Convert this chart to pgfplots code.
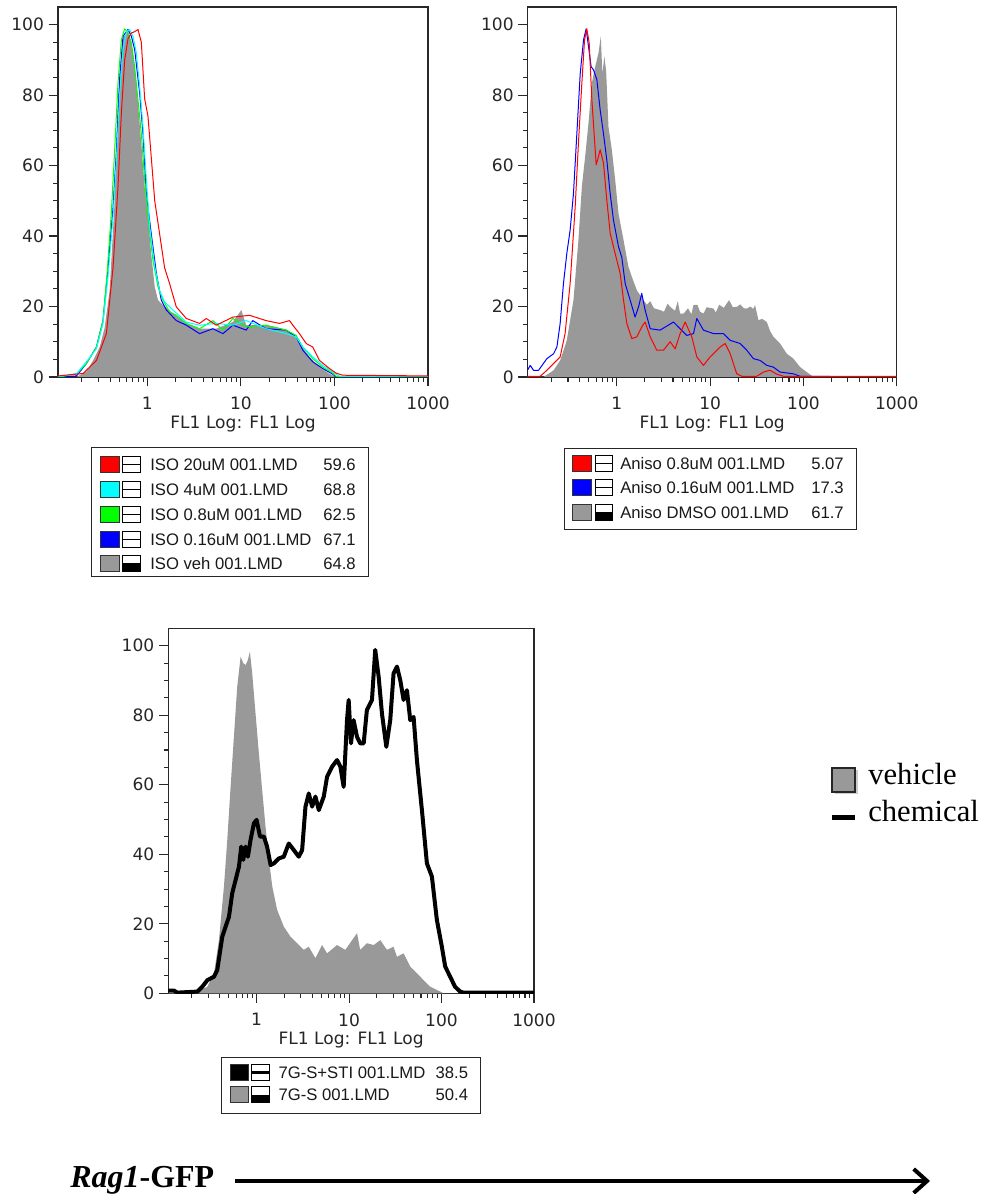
\documentclass[border=0pt]{standalone}
\usepackage{fontspec}
\usepackage{pgfplots}
\pgfplotsset{compat=1.18}
\usetikzlibrary{arrows.meta}
\setmainfont{Liberation Serif}
\newfontfamily\dvfont{DejaVu Sans}
\newfontfamily\arfont{Liberation Sans}
\definecolor{histgray}{RGB}{153,153,153}
\definecolor{framec}{RGB}{40,40,40}
\definecolor{fcred}{RGB}{255,0,0}
\definecolor{fccyan}{RGB}{0,255,255}
\definecolor{fcgreen}{RGB}{0,255,0}
\definecolor{fcblue}{RGB}{0,0,255}
\pgfplotsset{
  flowaxis/.style={
    scale only axis, anchor=south west,
    xmin=0.111, xmax=1000, ymin=0, ymax=105,
    xtick={1,10,100,1000}, xticklabels={1,10,100,1000},
    minor xtick={0.2,0.3,0.4,0.5,0.6,0.7,0.8,0.9,2,3,4,5,6,7,8,9,20,30,40,50,60,70,80,90,200,300,400,500,600,700,800,900},
    ytick={0,20,40,60,80,100}, yticklabels={0,20,40,60,80,100},
    minor ytick={5,10,15,25,30,35,45,50,55,65,70,75,85,90,95},
    tick align=outside, tick pos=left,
    major tick length=7pt, minor tick length=3.5pt,
    every tick/.style={framec, line width=0.8pt},
    axis line style={framec, line width=0.8pt},
    /pgf/number format/assume math mode=true,
    tick label style={font=\dvfont\fontsize{12.8}{15}\selectfont, text=black!85},
    xticklabel style={yshift=-4.5pt},
    xlabel={FL1 Log: FL1 Log},
    xlabel style={at={(axis description cs:0.5,0)}, anchor=center, yshift=-35pt, font=\dvfont\fontsize{12.8}{15}\selectfont, text=black!85},
  },
  thinline/.style={line width=0.75pt, line join=round},
}
\newcommand{\swatch}[3]{\draw[black!80, line width=0.75pt, fill=#3] (#1,#2-8) rectangle ++(18.5,16);}
\newcommand{\iconline}[2]{\draw[black, line width=0.75pt, fill=white] (#1,#2-8) rectangle ++(17.5,16); \draw[black, line width=0.75pt] (#1,#2) -- ++(17.5,0);}
\newcommand{\iconthick}[2]{\draw[black, line width=0.75pt, fill=white] (#1,#2-8) rectangle ++(17.5,16); \draw[black, line width=2.2pt] (#1,#2) -- ++(17.5,0);}
\newcommand{\iconfill}[2]{\draw[black, line width=0.75pt, fill=white] (#1,#2-8) rectangle ++(17.5,16); \fill[black] (#1,#2) rectangle ++(17.5,8);}
\newcommand{\legtext}[3]{\node[anchor=base west, inner sep=0, font=\arfont\fontsize{12.5}{14}\selectfont, text=black!90] at (#1,#2+5.8) {#3};}
\newcommand{\legnum}[3]{\node[anchor=base east, inner sep=0, font=\arfont\fontsize{12.5}{14}\selectfont, text=black!90] at (#1,#2+5.8) {#3};}
\begin{document}
\begin{tikzpicture}
\useasboundingbox (0,0) rectangle (740.25pt,895.5pt);
\fill[white] (0,0) rectangle (740.25pt,895.5pt);

% ---------------- Panel 1 ----------------
\begin{axis}[xmode=log, flowaxis, at={(43.5pt,612.75pt)}, width=277.5pt, height=277.5pt]
\addplot[draw=none, fill=histgray] coordinates {(0.111,0) (0.175,0) (0.223,1.5) (0.263,4.7) (0.310,8.5) (0.350,14) (0.396,24.6) (0.448,50) (0.486,79) (0.528,88) (0.550,97) (0.573,96.7) (0.622,98) (0.675,94.8) (0.732,88) (0.795,77.7) (0.863,66) (0.936,54) (1.016,45.5) (1.10,35) (1.20,25.6) (1.30,21.8) (1.47,20.4) (1.88,18) (2.61,15.2) (3.62,13.7) (5.45,13.7) (8.22,15.6) (10.1,19) (11.4,14.7) (18.6,14.7) (28.1,13.7) (35.9,12.3) (42.3,9.5) (54.1,5.7) (69.2,2.8) (88.5,0.9) (104,0) (1000,0)} \closedcycle;
\addplot[thinline, fcblue] coordinates {(0.111,0) (0.175,0.3) (0.223,3.8) (0.286,8.5) (0.336,16) (0.380,31) (0.430,48) (0.467,64) (0.507,85) (0.550,96.7) (0.622,98.6) (0.675,96.7) (0.732,93) (0.828,80.6) (0.899,69) (0.976,52) (1.10,40.8) (1.25,29.4) (1.41,21.8) (1.60,19) (2.04,16) (2.61,14.7) (3.62,12.3) (5.02,13.7) (6.43,12.3) (8.22,14.7) (11.4,13.3) (13.4,16) (18.6,13.7) (30.5,13.3) (39.0,11.4) (45.9,7.6) (58.7,4.3) (75.0,2.4) (96.0,0.8) (104,0) (1000,0)};
\addplot[thinline, fcgreen] coordinates {(0.111,0) (0.175,0.9) (0.223,3.8) (0.286,8.5) (0.336,16) (0.371,29) (0.413,47) (0.448,64.5) (0.486,83.4) (0.528,95.7) (0.573,98.8) (0.622,97.6) (0.675,94.8) (0.732,88) (0.795,78.7) (0.863,69) (0.936,56) (1.016,45.5) (1.15,33) (1.30,25.6) (1.47,21.8) (1.73,18.5) (2.04,17.5) (2.61,15.2) (3.62,13.7) (5.02,16) (6.43,13.3) (8.22,16.6) (11.4,14.2) (18.6,14.7) (30.5,13.3) (39.0,11.8) (45.9,8.5) (58.7,5.2) (75.0,2.8) (96.0,1.1) (104,0.2) (1000,0)};
\addplot[thinline, fccyan] coordinates {(0.111,0) (0.175,0.9) (0.223,4.3) (0.286,8) (0.336,15.2) (0.380,28.4) (0.430,45.5) (0.467,61.6) (0.507,80.6) (0.550,92.9) (0.597,98) (0.648,98.6) (0.703,96.7) (0.763,92) (0.828,82.5) (0.899,71) (0.976,56) (1.06,42.7) (1.20,31.3) (1.35,24.6) (1.53,21.3) (1.88,19) (2.61,15.6) (3.62,14.7) (5.45,15.2) (8.22,14.7) (11.4,16) (18.6,13.7) (30.5,12.3) (39.0,11.4) (45.9,8.5) (58.7,5.7) (75.0,3.3) (96.0,1.4) (113,0.2) (1000,0)};
\addplot[thinline, fcred] coordinates {(0.111,0.3) (0.206,1) (0.286,4.7) (0.365,12.3) (0.430,31) (0.486,54) (0.528,75) (0.573,90) (0.622,96) (0.675,97.6) (0.732,98) (0.795,98.6) (0.863,95) (0.936,79) (1.016,74) (1.10,62.6) (1.20,50) (1.35,40.8) (1.53,31) (1.73,26.5) (2.04,19.9) (2.61,16.6) (3.62,15.2) (4.27,16.6) (5.45,14.7) (8.22,17) (12.4,17.5) (18.6,16) (25.9,15.2) (33.1,16) (35.9,14.7) (42.3,12.3) (49.9,9.5) (58.7,8.5) (69.2,4.7) (88.5,2.4) (104,1.1) (123,0.5) (1000,0.3)};
\end{axis}

% ---------------- Panel 2 ----------------
\begin{axis}[xmode=log, flowaxis, at={(395.8pt,612.75pt)}, width=276.75pt, height=277.5pt]
\addplot[draw=none, fill=histgray] coordinates {(0.111,0) (0.164,0) (0.210,1.9) (0.247,4.7) (0.291,10.4) (0.343,21.8) (0.388,38.9) (0.422,54) (0.458,62.6) (0.497,72) (0.540,83.4) (0.586,88) (0.637,92) (0.674,96.7) (0.700,86) (0.735,91) (0.769,86.7) (0.814,71) (0.884,64.5) (0.960,56) (1.042,46.4) (1.18,38.9) (1.33,31.3) (1.45,28.4) (1.64,24.6) (1.93,21.8) (2.1,20.5) (2.28,21.5) (2.5,19.5) (2.91,19) (3.2,18.5) (3.5,20.8) (3.73,19.9) (4.2,18.8) (4.5,21.5) (4.77,18) (5.2,18) (5.8,19.5) (6.3,17.8) (6.63,20.4) (7.3,20.5) (7.8,18.5) (8.48,18) (9.2,19.8) (10.9,19.4) (11.5,18.3) (12.5,20.5) (14,19.6) (15.1,20.9) (16,21.8) (17.5,19.8) (19.3,19.9) (21,20.6) (23,19.5) (24.7,19.4) (27,20) (29,19.3) (30.3,20.4) (33.0,16.1) (36,16.5) (40.5,15.6) (44,13) (47.7,11.4) (56.2,9.5) (66.3,6.6) (78.1,5.2) (92.1,2.8) (108.6,1.4) (128,0) (1000,0)} \closedcycle;
\addplot[thinline, fcblue] coordinates {(0.111,2) (0.118,3.3) (0.128,1.9) (0.145,1.9) (0.178,5.2) (0.210,6.6) (0.228,8.5) (0.247,15.2) (0.268,26.5) (0.291,35) (0.316,41.7) (0.343,52) (0.373,69) (0.405,86) (0.440,95.7) (0.469,98.8) (0.497,93.8) (0.531,88) (0.562,87.2) (0.611,84.4) (0.663,75.8) (0.720,69) (0.781,61.6) (0.849,52) (0.921,44.5) (1.042,37) (1.13,34) (1.23,26.5) (1.39,21.8) (1.57,17) (1.71,19.9) (1.85,23.7) (2.01,19) (2.28,13.7) (2.91,13.3) (4.05,15.6) (5.62,11.8) (6.63,12.3) (7.20,16.6) (8.48,13.3) (10.9,12.3) (13.9,12.3) (16.4,10.4) (21.0,9.5) (24.7,7.6) (29.1,5.2) (34.3,4.7) (40.5,3.3) (47.7,2.8) (56.2,1.4) (78.1,0.9) (92.1,0.2) (1000,0)};
\addplot[thinline, fcred] coordinates {(0.111,0.2) (0.151,0.2) (0.178,1.9) (0.210,3.8) (0.247,5.7) (0.279,12.3) (0.316,26.5) (0.358,48.3) (0.388,66.4) (0.422,83.4) (0.451,95.7) (0.477,98.8) (0.506,94.8) (0.540,78.7) (0.577,67.3) (0.601,60.2) (0.637,62.6) (0.663,64.5) (0.720,60.7) (0.781,50.2) (0.849,40.8) (0.960,35) (1.086,29.4) (1.18,21.8) (1.28,15.2) (1.45,10.9) (1.64,11.4) (1.85,14.2) (2.01,15.6) (2.28,11.4) (2.68,7.6) (3.16,7.6) (3.73,10) (4.22,8) (4.77,12.3) (5.40,15.6) (6.36,11.4) (7.20,5.7) (8.48,3.3) (10.0,5.7) (12.8,8.5) (14.5,9.5) (16.4,6.6) (19.3,0.9) (21.8,0.2) (31.6,0.2) (37.3,1.4) (43.9,1.9) (51.8,0.8) (61.1,0.2) (1000,0.2)};
\end{axis}

% ---------------- Panel 3 ----------------
\begin{axis}[xmode=log, flowaxis, at={(126.2pt,150.5pt)}, width=274.3pt, height=273.75pt]
\addplot[draw=none, fill=histgray] coordinates {(0.111,0) (0.229,0.5) (0.294,1.9) (0.347,5.8) (0.392,15.3) (0.444,30.7) (0.482,44) (0.524,59.4) (0.569,73.8) (0.618,88.2) (0.672,96.8) (0.718,95) (0.761,94.4) (0.806,95.9) (0.847,98.3) (0.898,92) (0.975,80.5) (1.06,69) (1.15,58.5) (1.25,48) (1.36,38.4) (1.48,30.7) (1.67,24) (1.97,19.2) (2.33,16.3) (2.75,14.4) (3.24,12.5) (3.67,13.4) (4.33,10.1) (5.11,13.9) (5.79,11.5) (7.42,13.9) (9.12,12.5) (10.8,15.3) (12.2,17.3) (13.2,12.5) (15.6,14.4) (18.5,13.9) (21.8,15.3) (25.7,12.5) (30.3,13.4) (33.0,10.5) (38.9,11.5) (45.9,7.7) (54.2,5.8) (63.9,3.8) (75.5,1.9) (96.8,0.5) (105,0) (1000,0)} \closedcycle;
\addplot[line width=3pt, line join=round, black] coordinates {(0.111,0.8) (0.118,0.8) (0.128,0.8) (0.139,0.2) (0.229,0.5) (0.259,1.9) (0.294,3.8) (0.347,4.8) (0.376,6.7) (0.426,16.3) (0.463,19.2) (0.503,22) (0.546,28.8) (0.593,32.6) (0.645,36.4) (0.683,42.2) (0.718,38.4) (0.761,42.2) (0.806,39.3) (0.861,44.1) (0.936,48.9) (1.0,49.9) (1.09,45.1) (1.20,45.1) (1.30,42.2) (1.42,36.9) (1.54,37.4) (1.74,38.8) (1.97,39.3) (2.23,43.1) (2.53,41.2) (2.86,39.3) (3.11,41.2) (3.38,53.7) (3.67,57.5) (3.99,53.7) (4.33,56.6) (4.71,52.7) (5.33,56.6) (5.79,62.3) (6.56,65.2) (7.42,67.1) (8.06,65.2) (8.75,59.4) (9.51,78.6) (9.91,84.4) (10.5,71.9) (11.2,78.6) (12.2,73.8) (13.2,71.9) (14.4,71.9) (15.6,81.5) (17.7,84.4) (19.2,98.8) (20.9,91.1) (22.7,80.5) (25.3,70.9) (27.9,78.6) (30.3,92) (33.0,94) (35.8,90.1) (38.9,84.4) (42.3,87.2) (45.9,78.6) (49.9,79.5) (54.2,67.1) (61.4,52.7) (69.5,37.4) (78.7,33.6) (89.1,21.1) (100.9,13.4) (109.6,7.7) (124,4.8) (140,1.9) (159,0.5) (173,0.2) (1000,0.2)};
\end{axis}

% ---------------- Legends and annotations (pixel coordinates) ----------------
\begin{scope}[x=0.75pt, y=-0.75pt, yshift=895.5pt]
% legend 1
\draw[black!85, line width=0.75pt] (91.7,447.3) rectangle (368.3,576.7);
\swatch{100.7}{464.7}{fcred}\iconline{122.7}{464.7}\legtext{150}{464.7}{ISO 20uM 001.LMD}\legnum{356}{464.7}{59.6}
\swatch{100.7}{489.7}{fccyan}\iconline{122.7}{489.7}\legtext{150}{489.7}{ISO 4uM 001.LMD}\legnum{356}{489.7}{68.8}
\swatch{100.7}{514.5}{fcgreen}\iconline{122.7}{514.5}\legtext{150}{514.5}{ISO 0.8uM 001.LMD}\legnum{356}{514.5}{62.5}
\swatch{100.7}{539.3}{fcblue}\iconline{122.7}{539.3}\legtext{150}{539.3}{ISO 0.16uM 001.LMD}\legnum{356}{539.3}{67.1}
\swatch{100.7}{563.5}{histgray}\iconfill{122.7}{563.5}\legtext{150}{563.5}{ISO veh 001.LMD}\legnum{356}{563.5}{64.8}
% legend 2
\draw[black!85, line width=0.75pt] (564,448.3) rectangle (856,529.3);
\swatch{572.7}{463.5}{fcred}\iconline{595}{463.5}\legtext{620}{463.5}{Aniso 0.8uM 001.LMD}\legnum{844}{463.5}{5.07}
\swatch{572.7}{488}{fcblue}\iconline{595}{488}\legtext{620}{488}{Aniso 0.16uM 001.LMD}\legnum{844}{488}{17.3}
\swatch{572.7}{512.5}{histgray}\iconfill{595}{512.5}\legtext{620}{512.5}{Aniso DMSO 001.LMD}\legnum{844}{512.5}{61.7}
% legend 3
\draw[black!85, line width=0.75pt] (221.7,1057.3) rectangle (480,1113.3);
\swatch{230}{1072.7}{black}\iconthick{251.7}{1072.7}\legtext{278.3}{1072.7}{7G-S+STI 001.LMD}\legnum{468.3}{1072.7}{38.5}
\swatch{230}{1095}{histgray}\iconfill{251.7}{1095}\legtext{278.3}{1095}{7G-S 001.LMD}\legnum{468.3}{1095}{50.4}
% vehicle / chemical key
\fill[black!20] (834.5,770.5) rectangle (857.5,794.5);
\draw[black!85, line width=1pt, fill=histgray] (832,768) rectangle (855,792);
\node[anchor=base west, inner sep=0, font=\fontsize{23}{26}\selectfont] at (868,785) {vehicle};
\fill[black] (832,815) rectangle (855,820);
\node[anchor=base west, inner sep=0, font=\fontsize{23}{26}\selectfont] at (868,822) {chemical};
% Rag1-GFP arrow
\node[anchor=base west, inner sep=0, font=\bfseries\fontsize{24}{28}\selectfont] at (70,1187) {\textit{Rag1}-GFP};
\draw[line width=3pt, -{Straight Barb[length=10pt,width=18pt]}] (235,1181) -- (930,1181);
\end{scope}
\end{tikzpicture}
\end{document}
